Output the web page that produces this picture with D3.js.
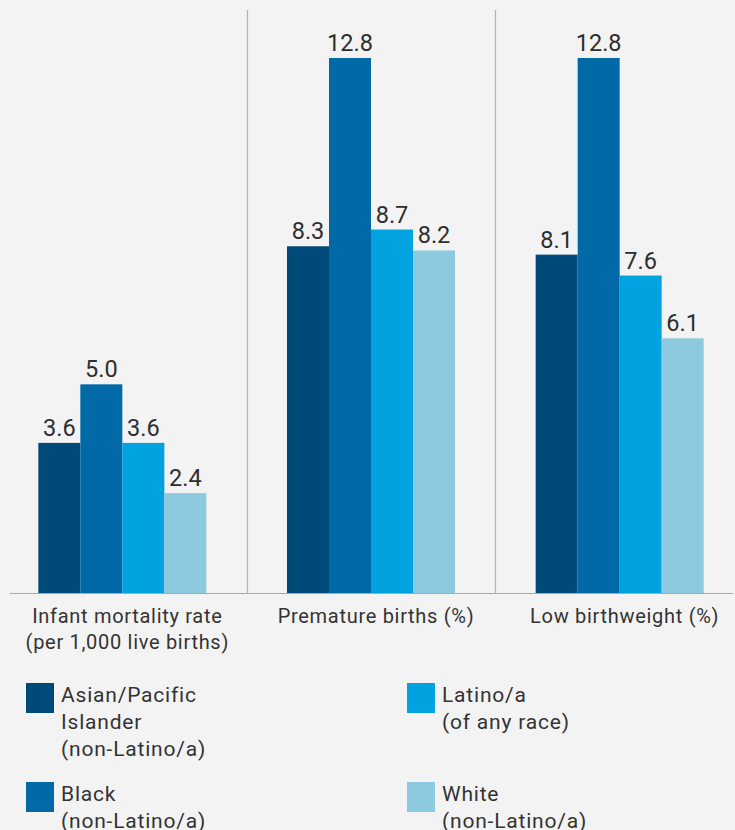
<!DOCTYPE html>
<html>
<head>
<meta charset="utf-8">
<script src="https://cdn.jsdelivr.net/npm/d3@7"></script>
<style>
  html, body { margin: 0; padding: 0; background: #f3f3f3; }
  svg { display: block; font-family: Roboto, "Noto Sans", sans-serif; }
</style>
</head>
<body>
<div id="chart"></div>
<script>
// Chart data
const categories = ['Infant mortality rate', 'Premature births (%)', 'Low birthweight (%)'];
const categoryLines = [
    ['Infant mortality rate', '(per 1,000 live births)'],
    ['Premature births (%)'],
    ['Low birthweight (%)']
];
const seriesNames = ['Asian/Pacific Islander', 'Black', 'Latino/a', 'White'];
const seriesLines = [
    ['Asian/Pacific', 'Islander', '(non-Latino/a)'],
    ['Black', '(non-Latino/a)'],
    ['Latino/a', '(of any race)'],
    ['White', '(non-Latino/a)']
];
const asianValues = [3.6, 8.3, 8.1];
const blackValues = [5.0, 12.8, 12.8];
const latinoValues = [3.6, 8.7, 7.6];
const whiteValues = [2.4, 8.2, 6.1];

const colors = ['#004a7a', '#0069a6', '#00a3df', '#8ecadf'];

const width = 735;
const height = 830;
const baseline = 593.5;
const barWidth = 42;

const svg = d3.select('#chart')
    .append('svg')
    .attr('width', width)
    .attr('height', height);

svg.append('rect')
    .attr('width', width)
    .attr('height', height)
    .attr('fill', '#f3f3f3');

// Scales
const x0 = d3.scaleBand()
    .domain(categories)
    .range([-2, 744]);

const x1 = d3.scaleBand()
    .domain(seriesNames)
    .range([(x0.bandwidth() - barWidth * seriesNames.length) / 2,
            (x0.bandwidth() + barWidth * seriesNames.length) / 2]);

const y = d3.scaleLinear()
    .domain([0, 12.8])
    .range([baseline, 58]);

const color = d3.scaleOrdinal()
    .domain(seriesNames)
    .range(colors);

const valuesBySeries = [asianValues, blackValues, latinoValues, whiteValues];
const rows = categories.map((c, i) => ({
    category: c,
    values: seriesNames.map((s, j) => ({ series: s, value: valuesBySeries[j][i] }))
}));

// Separators between groups
svg.append('g')
    .selectAll('line')
    .data(categories.slice(1))
    .join('line')
    .attr('x1', d => Math.round(x0(d)) + 0.5)
    .attr('x2', d => Math.round(x0(d)) + 0.5)
    .attr('y1', 10)
    .attr('y2', baseline)
    .attr('stroke', '#b4b4b4')
    .attr('stroke-width', 1.2);

// Bars
const groups = svg.append('g')
    .selectAll('g')
    .data(rows)
    .join('g')
    .attr('transform', d => `translate(${x0(d.category)},0)`);

groups.selectAll('rect')
    .data(d => d.values)
    .join('rect')
    .attr('x', d => x1(d.series))
    .attr('width', x1.bandwidth())
    .attr('y', d => y(d.value))
    .attr('height', d => baseline - y(d.value))
    .attr('fill', d => color(d.series));

// Value labels
groups.selectAll('text')
    .data(d => d.values)
    .join('text')
    .attr('x', d => x1(d.series) + x1.bandwidth() / 2)
    .attr('y', d => y(d.value) - 7)
    .attr('text-anchor', 'middle')
    .attr('fill', '#2e2e2e')
    .style('font-size', '23.5px')
    .text(d => d.value.toFixed(1));

// Baseline
svg.append('line')
    .attr('x1', 10)
    .attr('x2', 733)
    .attr('y1', baseline)
    .attr('y2', baseline)
    .attr('stroke', '#a8a8a8')
    .attr('stroke-width', 1.2);

// Category labels
const catLabels = svg.append('g')
    .selectAll('text')
    .data(categories)
    .join('text')
    .attr('x', d => x0(d) + x0.bandwidth() / 2 + 5)
    .attr('y', 623)
    .attr('text-anchor', 'middle')
    .attr('fill', '#333')
    .style('font-size', '20px')
    .style('letter-spacing', '0.7px');

catLabels.selectAll('tspan')
    .data((d, i) => categoryLines[i])
    .join('tspan')
    .attr('x', function () { return d3.select(this.parentNode).attr('x'); })
    .attr('dy', (d, i) => i === 0 ? 0 : 26)
    .text(d => d);

// Legend
const legend = svg.append('g')
    .selectAll('g')
    .data(seriesNames)
    .join('g')
    .attr('transform', (d, i) => `translate(${i < 2 ? 26 : 407},${i % 2 === 0 ? 683 : 782})`);

legend.append('rect')
    .attr('width', 28)
    .attr('height', 30)
    .attr('fill', d => color(d));

legend.append('text')
    .attr('x', 35)
    .attr('y', 19)
    .attr('fill', '#333')
    .style('font-size', '21px')
    .style('letter-spacing', '0.8px')
    .selectAll('tspan')
    .data((d, i) => seriesLines[i])
    .join('tspan')
    .attr('x', 35)
    .attr('dy', (d, i) => i === 0 ? 0 : 27)
    .text(d => d);
</script>
</body>
</html>
